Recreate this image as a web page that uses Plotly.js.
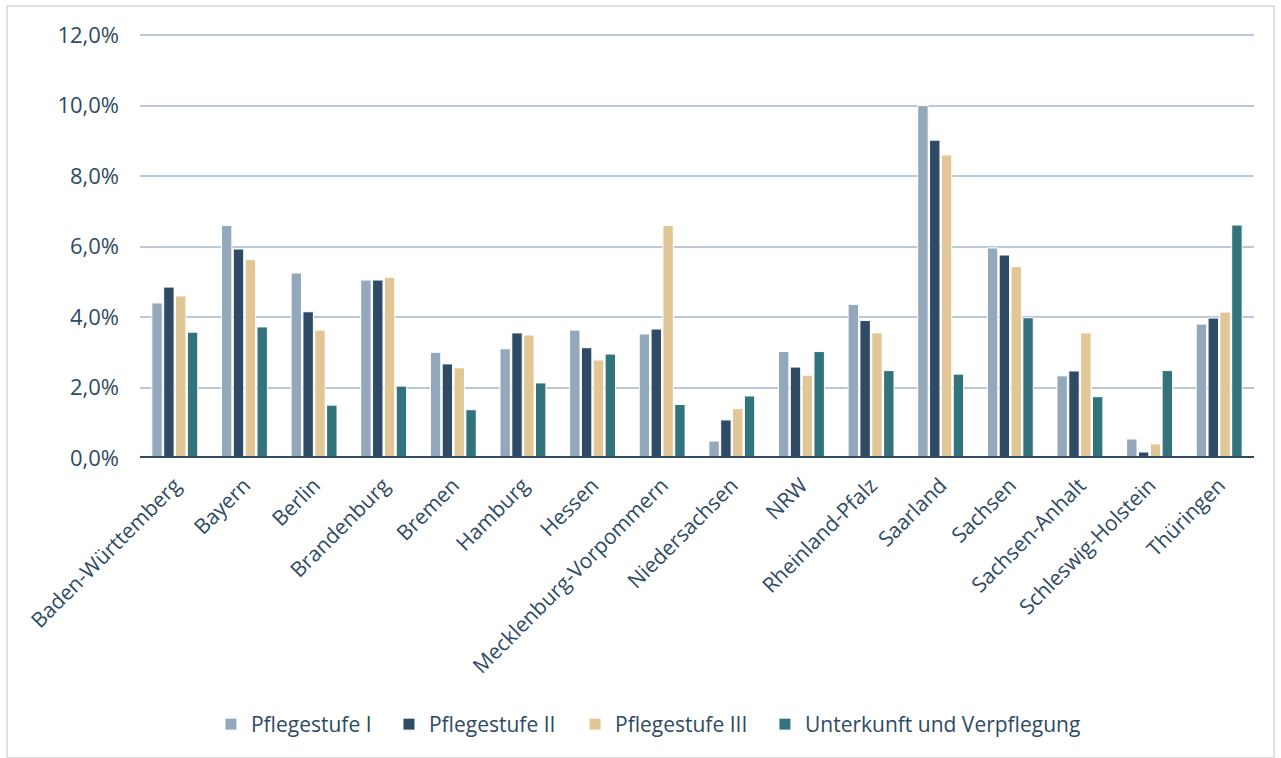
<!DOCTYPE html>
<html><head><meta charset="utf-8">
<script src="https://cdn.plot.ly/plotly-3.0.1.min.js"></script>
<style>html,body{margin:0;padding:0;background:#fff}#chart{width:1281px;height:758px}</style>
</head><body><div id="chart"></div>
<script>
const categories = ["Baden-Württemberg","Bayern","Berlin","Brandenburg","Bremen","Hamburg","Hessen","Mecklenburg-Vorpommern","Niedersachsen","NRW","Rheinland-Pfalz","Saarland","Sachsen","Sachsen-Anhalt","Schleswig-Holstein","Thüringen"];
const seriesNames = ["Pflegestufe I","Pflegestufe II","Pflegestufe III","Unterkunft und Verpflegung"];
const pflegestufe1 = [4.40,6.60,5.25,5.05,3.00,3.10,3.63,3.52,0.48,3.02,4.36,10.00,5.96,2.33,0.54,3.80];
const pflegestufe2 = [4.85,5.93,4.15,5.05,2.67,3.55,3.13,3.66,1.08,2.58,3.90,9.02,5.76,2.47,0.17,3.97];
const pflegestufe3 = [4.60,5.63,3.63,5.13,2.56,3.49,2.78,6.60,1.40,2.35,3.55,8.60,5.43,3.55,0.40,4.14];
const unterkunft   = [3.57,3.72,1.50,2.04,1.37,2.13,2.95,1.52,1.76,3.02,2.48,2.38,3.98,1.74,2.48,6.61];
const tickVals = [0,2,4,6,8,10,12];
const tickText = ["0,0%","2,0%","4,0%","6,0%","8,0%","10,0%","12,0%"];
const colors = ["#94A8BC","#2E4A64","#E1C696","#32737C"];
const allValues = [pflegestufe1,pflegestufe2,pflegestufe3,unterkunft];

const textColor = "#2E4A64";
const legendIds = ["legend","legend2","legend3","legend4"];
const legendX = [0.0637,0.2235,0.3905,0.561];
const traces = allValues.map((vals,i)=>({
  type:"bar", name:seriesNames[i], x:categories, y:vals, legend:legendIds[i],
  marker:{color:colors[i], line:{color:"#ffffff", width:1}},
  hoverinfo:"x+y"
}));

const layout = {
  width:1281, height:758,
  margin:{l:140, r:27, t:33, b:300},
  paper_bgcolor:"#fff", plot_bgcolor:"#fff",
  font:{family:"Open Sans, sans-serif", size:21, color:textColor},
  barmode:"group", bargap:0.32, bargroupgap:0.12,
  xaxis:{type:"category", tickangle:-45, tickfont:{size:21,color:textColor},
         showgrid:false, showline:false, ticks:"", ticklabelstandoff:10, zeroline:false},
  yaxis:{range:[0,12.06], tickvals:tickVals, ticktext:tickText, showgrid:true,
         gridcolor:"#B9C9D9", gridwidth:2, zeroline:false, showline:false,
         ticks:"", ticklabelstandoff:20, tickfont:{size:22,color:textColor}, automargin:false},
  showlegend:true,
  shapes:[
    {type:"line", xref:"paper", yref:"y", x0:0, x1:1, y0:0, y1:0,
     line:{color:"#2E4A64", width:4}, layer:"above"},
    {type:"rect", xref:"paper", yref:"paper", x0:-0.1194, x1:1.018, y0:-0.705, y1:1.0635,
     line:{color:"#D9D9D9", width:1.5}, fillcolor:"rgba(0,0,0,0)", layer:"below"}
  ]
};
legendIds.forEach((id,i)=>{
  layout[id] = {orientation:"h", x:legendX[i], xanchor:"left", y:-0.627, yanchor:"middle",
    font:{size:21,color:textColor}, itemwidth:30, bgcolor:"rgba(0,0,0,0)"};
});
Plotly.newPlot("chart", traces, layout, {displayModeBar:false, staticPlot:true});
</script></body></html>
